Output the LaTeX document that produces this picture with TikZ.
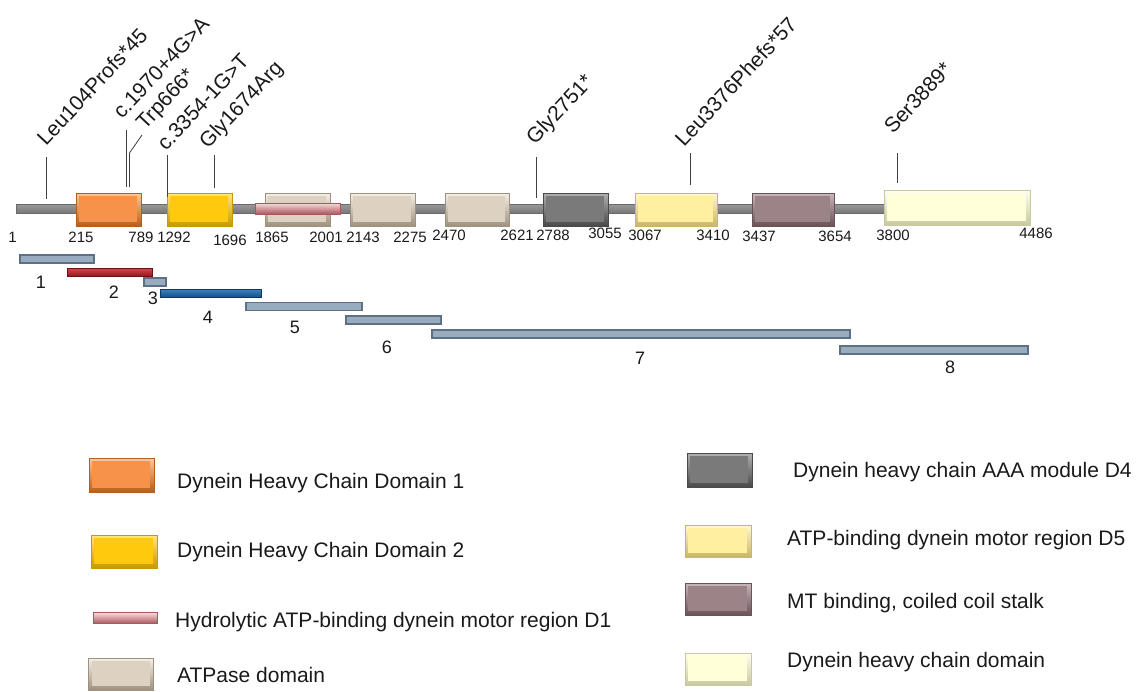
\documentclass[tikz,border=0pt]{standalone}
\usepackage{fontspec}
\setmainfont{Liberation Sans}
\definecolor{orangeM}{HTML}{F6924A}\definecolor{orangeD}{HTML}{B45F20}\definecolor{orangeL}{HTML}{FBC89A}
\definecolor{goldM}{HTML}{FFC90E}\definecolor{goldD}{HTML}{C79A00}\definecolor{goldL}{HTML}{FFE680}
\definecolor{beigeM}{HTML}{DDD1C1}\definecolor{beigeD}{HTML}{9E927F}\definecolor{beigeL}{HTML}{F4EFE8}
\definecolor{pinkM}{HTML}{F2A2A6}\definecolor{pinkD}{HTML}{A8585D}\definecolor{pinkL}{HTML}{FBD9DA}
\definecolor{grayM}{HTML}{7A7A7A}\definecolor{grayD}{HTML}{4A4A4A}\definecolor{grayL}{HTML}{B0B0B0}
\definecolor{dfM}{HTML}{FFEFA0}\definecolor{dfD}{HTML}{C9B66A}\definecolor{dfL}{HTML}{FFF8D5}
\definecolor{mauveM}{HTML}{9C8388}\definecolor{mauveD}{HTML}{6A5257}\definecolor{mauveL}{HTML}{C8B6BA}
\definecolor{creamM}{HTML}{FFFFD8}\definecolor{creamD}{HTML}{C9C9A0}\definecolor{creamL}{HTML}{FFFFF2}
\definecolor{bbD}{HTML}{6A6A6A}\definecolor{bbT}{HTML}{9A9A9A}\definecolor{bbM}{HTML}{E8E8E8}\definecolor{bbB}{HTML}{787878}
\definecolor{frD}{HTML}{5E7084}\definecolor{frE}{HTML}{98ABBF}\definecolor{frM}{HTML}{F0F5FA}
\definecolor{rdD}{HTML}{6E0F14}\definecolor{rdT}{HTML}{D8474F}\definecolor{rdM}{HTML}{C3202A}\definecolor{rdB}{HTML}{98161D}
\definecolor{blD}{HTML}{12385E}\definecolor{blT}{HTML}{3A84C6}\definecolor{blM}{HTML}{2167A9}\definecolor{blB}{HTML}{174E85}
\definecolor{txt}{HTML}{1A1A1A}
\tikzset{
  bev/.style n args={3}{rectangle, draw=#2, line width=0.5pt, inner sep=0pt, outer sep=0pt,
    top color=#3, bottom color=#2,
    path picture={\fill[#1] ([shift={(3pt,-3pt)}]path picture bounding box.north west)
      rectangle ([shift={(-4pt,4pt)}]path picture bounding box.south east);}},
  backbone/.style={rectangle, draw=bbD, line width=0.4pt, inner sep=0pt,
    top color=bbT, middle color=bbM, bottom color=bbB},
  frag/.style={rectangle, draw=frD, line width=1.1pt, inner sep=0pt,
    top color=frE, middle color=frM, bottom color=frE},
  fragred/.style={rectangle, draw=rdD, line width=0.8pt, inner sep=0pt,
    top color=rdT, middle color=rdM, bottom color=rdB},
  fragblue/.style={rectangle, draw=blD, line width=0.8pt, inner sep=0pt,
    top color=blT, middle color=blM, bottom color=blB},
  mut/.style={rotate=47, anchor=base west, inner sep=0pt, text=txt, font=\fontsize{21}{21}\selectfont},
  posnum/.style={inner sep=0pt, text=txt, font=\fontsize{15}{15}\selectfont},
  fnum/.style={inner sep=0pt, text=txt, font=\fontsize{18}{18}\selectfont},
  leg/.style={anchor=west, inner sep=0pt, text=txt, font=\fontsize{21}{21}\selectfont},
  mline/.style={draw=black!75, line width=0.8pt},
}
\begin{document}
\begin{tikzpicture}[x=1pt,y=-1pt]
\useasboundingbox[fill=white] (0,0) rectangle (1145,691);

% backbone
\node[backbone, minimum width=1014pt, minimum height=9pt] (bb) at (523,208.5) {};

% domains
\node[bev={orangeM}{orangeD}{orangeL}, minimum width=65pt, minimum height=33pt] (d1) at (108.5,209.5) {};
\node[bev={goldM}{goldD}{goldL}, minimum width=65pt, minimum height=33pt] (d2) at (199.5,209.5) {};
\node[bev={beigeM}{beigeD}{beigeL}, minimum width=65pt, minimum height=33pt] (a1) at (297.5,209.5) {};
\node[bev={pinkM}{pinkD}{pinkL}, minimum width=85pt, minimum height=11pt, path picture={}] (h1) at (297.5,208.5) {};
\node[bev={beigeM}{beigeD}{beigeL}, minimum width=65pt, minimum height=33pt] (a2) at (382.5,209.5) {};
\node[bev={beigeM}{beigeD}{beigeL}, minimum width=64pt, minimum height=33pt] (a3) at (477,209.5) {};
\node[bev={grayM}{grayD}{grayL}, minimum width=65pt, minimum height=33pt] (d4) at (575.5,209.5) {};
\node[bev={dfM}{dfD}{dfL}, minimum width=82pt, minimum height=33pt] (d5) at (676,209.5) {};
\node[bev={mauveM}{mauveD}{mauveL}, minimum width=82pt, minimum height=33pt] (mt) at (793,209.5) {};
\node[bev={creamM}{creamD}{creamL}, minimum width=146pt, minimum height=35pt] (hc) at (957,207.5) {};

% positions
\node[posnum] (p1) at (12.5,237) {1};
\node[posnum] (p215) at (81,237) {215};
\node[posnum] (p789) at (141,237) {789};
\node[posnum] (p1292) at (174,237) {1292};
\node[posnum] (p1696) at (230,240) {1696};
\node[posnum] (p1865) at (272,237) {1865};
\node[posnum] (p2001) at (326,237) {2001};
\node[posnum] (p2143) at (363,237) {2143};
\node[posnum] (p2275) at (410,237) {2275};
\node[posnum] (p2470) at (449,235) {2470};
\node[posnum] (p2621) at (517,235) {2621};
\node[posnum] (p2788) at (553,235) {2788};
\node[posnum] (p3055) at (605,233) {3055};
\node[posnum] (p3067) at (645,235) {3067};
\node[posnum] (p3410) at (713,235) {3410};
\node[posnum] (p3437) at (759,236) {3437};
\node[posnum] (p3654) at (835,236) {3654};
\node[posnum] (p3800) at (893,235) {3800};
\node[posnum] (p4486) at (1036,233) {4486};

% mutations
\node[mut] (m1) at (46,147) {Leu104Profs*45};
\node[mut] (m2) at (122,120) {c.1970+4G>A};
\node[mut] (m3) at (145,131) {Trp666*};
\node[mut] (m4) at (166,152) {c.3354-1G>T};
\node[mut] (m5) at (208,150) {Gly1674Arg};
\node[mut] (m6) at (535,146) {Gly2751*};
\node[mut] (m7) at (684,148) {Leu3376Phefs*57};
\node[mut] (m8) at (893,135) {Ser3889*};

\coordinate (t1) at (46,157);  \coordinate (b1) at (46,199);
\coordinate (t2) at (126,130); \coordinate (b2) at (126,187);
\coordinate (s3) at (142,135); \coordinate (t3) at (129.5,153); \coordinate (b3) at (129.5,187);
\coordinate (t4) at (167,155); \coordinate (b4) at (167,197);
\coordinate (t5) at (214,155); \coordinate (b5) at (214,188);
\coordinate (t6) at (536,157); \coordinate (b6) at (536,198);
\coordinate (t7) at (690,153); \coordinate (b7) at (690,185);
\coordinate (t8) at (897,153); \coordinate (b8) at (897,183);
\draw[mline] (t1) -- (b1);
\draw[mline] (t2) -- (b2);
\draw[mline] (s3) -- (t3) -- (b3);
\draw[mline] (t4) -- (b4);
\draw[mline] (t5) -- (b5);
\draw[mline] (t6) -- (b6);
\draw[mline] (t7) -- (b7);
\draw[mline] (t8) -- (b8);

% fragments
\node[frag, minimum width=74pt, minimum height=8pt] (f1) at (57,259) {};
\node[fragred, minimum width=85pt, minimum height=8pt] (f2) at (109.5,272) {};
\node[frag, minimum width=22pt, minimum height=8pt] (f3) at (155,282) {};
\node[fragblue, minimum width=101pt, minimum height=8pt] (f4) at (210.5,293) {};
\node[frag, minimum width=116pt, minimum height=8.5pt] (f5) at (304,306.5) {};
\node[frag, minimum width=95pt, minimum height=8pt] (f6) at (393.5,320) {};
\node[frag, minimum width=418pt, minimum height=8pt] (f7) at (641,334) {};
\node[frag, minimum width=188pt, minimum height=8pt] (f8) at (934,350) {};
\node[fnum] (n1) at (41,282) {1};
\node[fnum] (n2) at (114,292) {2};
\node[fnum] (n3) at (153,298) {3};
\node[fnum] (n4) at (208,317) {4};
\node[fnum] (n5) at (295,327) {5};
\node[fnum] (n6) at (387,347) {6};
\node[fnum] (n7) at (640,358) {7};
\node[fnum] (n8) at (950,367) {8};

% legend left
\node[bev={orangeM}{orangeD}{orangeL}, minimum width=65pt, minimum height=34pt] (l1) at (121.5,475) {};
\node[leg] (lt1) at (177,483) {Dynein Heavy Chain Domain 1};
\node[bev={goldM}{goldD}{goldL}, minimum width=66pt, minimum height=33pt] (l2) at (124,551.5) {};
\node[leg] (lt2) at (177,552) {Dynein Heavy Chain Domain 2};
\node[bev={pinkM}{pinkD}{pinkL}, minimum width=64pt, minimum height=11pt, path picture={}] (l3) at (125,618) {};
\node[leg] (lt3) at (175,622) {Hydrolytic ATP-binding dynein motor region D1};
\node[bev={beigeM}{beigeD}{beigeL}, minimum width=65pt, minimum height=32pt] (l4) at (121,674) {};
\node[leg] (lt4) at (177,675) {ATPase domain};

% legend right
\node[bev={grayM}{grayD}{grayL}, minimum width=65pt, minimum height=34pt] (r1) at (719.5,470) {};
\node[leg] (rt1) at (793,472) {Dynein heavy chain AAA module D4};
\node[bev={dfM}{dfD}{dfL}, minimum width=66pt, minimum height=32pt] (r2) at (718,541) {};
\node[leg] (rt2) at (787,540) {ATP-binding dynein motor region D5};
\node[bev={mauveM}{mauveD}{mauveL}, minimum width=66pt, minimum height=32pt] (r3) at (718,599) {};
\node[leg] (rt3) at (787,603) {MT binding, coiled coil stalk};
\node[bev={creamM}{creamD}{creamL}, minimum width=66pt, minimum height=32pt] (r4) at (718,669) {};
\node[leg] (rt4) at (787,662) {Dynein heavy chain domain};
\end{tikzpicture}
\end{document}
